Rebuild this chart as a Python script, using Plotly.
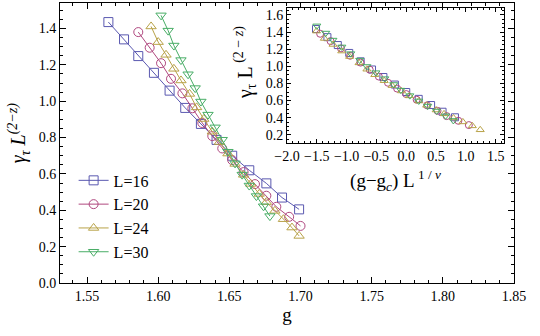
import plotly.graph_objects as go

# ---- data ----
g16 = [1.565, 1.576, 1.586, 1.597, 1.608, 1.619, 1.630, 1.641, 1.652, 1.664, 1.676, 1.687, 1.699]
y16 = [1.435, 1.340, 1.248, 1.156, 1.058, 0.963, 0.875, 0.787, 0.700, 0.620, 0.548, 0.470, 0.405]

g20 = [1.586, 1.594, 1.602, 1.609, 1.617, 1.624, 1.631, 1.638, 1.645, 1.652, 1.660, 1.668, 1.676, 1.683, 1.692, 1.700]
y20 = [1.380, 1.294, 1.209, 1.123, 1.043, 0.961, 0.880, 0.808, 0.740, 0.676, 0.610, 0.544, 0.480, 0.419, 0.364, 0.314]

g24 = [1.595, 1.600, 1.6055, 1.611, 1.616, 1.622, 1.627, 1.632, 1.638, 1.643, 1.649, 1.654, 1.660, 1.665, 1.671, 1.676, 1.682, 1.688, 1.694, 1.699]
y24 = [1.411, 1.325, 1.255, 1.178, 1.114, 1.040, 0.966, 0.902, 0.832, 0.775, 0.712, 0.655, 0.595, 0.545, 0.490, 0.445, 0.397, 0.351, 0.305, 0.259]

g30 = [1.602, 1.607, 1.611, 1.616, 1.621, 1.626, 1.630, 1.635, 1.640, 1.645, 1.649, 1.654, 1.659, 1.664, 1.669, 1.674, 1.6785]
y30 = [1.472, 1.388, 1.306, 1.226, 1.148, 1.072, 0.998, 0.926, 0.856, 0.788, 0.722, 0.658, 0.596, 0.536, 0.478, 0.422, 0.368]

# scaled abscissa (g - g_c) L^{1/nu} for the inset
s16 = [-1.513, -1.322, -1.148, -0.956, -0.765, -0.574, -0.383, -0.191, 0.0, 0.209, 0.417, 0.609, 0.817]
s20 = [-1.444, -1.269, -1.094, -0.941, -0.766, -0.613, -0.459, -0.306, -0.153, 0.0, 0.175, 0.350, 0.525, 0.678, 0.875, 1.050]
s24 = [-1.505, -1.373, -1.228, -1.082, -0.950, -0.792, -0.660, -0.528, -0.370, -0.238, -0.079, 0.053, 0.211, 0.343, 0.502, 0.634, 0.792, 0.950, 1.109, 1.241]
s30 = [-1.50, -1.35, -1.23, -1.08, -0.93, -0.78, -0.66, -0.51, -0.36, -0.21, -0.09, 0.06, 0.21, 0.36, 0.51, 0.66, 0.79]

labels = ["L=16", "L=20", "L=24", "L=30"]
colors = ["#5a58b0", "#b0487f", "#b8a248", "#48ad66"]
symbols = ["square-open", "circle-open", "triangle-up-open", "triangle-down-open"]

FONT = "Liberation Serif"

fig = go.Figure()
main = [(g16, y16), (g20, y20), (g24, y24), (g30, y30)]
inset = [(s16, y16), (s20, y20), (s24, y24), (s30, y30)]
for i, (gx, gy) in enumerate(main):
    fig.add_trace(go.Scatter(
        x=gx, y=gy, mode="lines+markers", name=labels[i],
        line=dict(color=colors[i], width=1),
        marker=dict(symbol=symbols[i], size=9, color=colors[i], line=dict(width=1, color=colors[i])),
        xaxis="x", yaxis="y"))
for i, (sx, sy) in enumerate(inset):
    fig.add_trace(go.Scatter(
        x=sx, y=sy, mode="markers", showlegend=False,
        marker=dict(symbol=symbols[i], size=7, color=colors[i], line=dict(width=1, color=colors[i])),
        xaxis="x2", yaxis="y2"))

axis_common = dict(showline=True, linecolor="black", linewidth=1, mirror="allticks",
                   ticks="inside", ticklen=6, tickcolor="black", showgrid=False, zeroline=False,
                   automargin=False,
                   tickfont=dict(family=FONT, size=14, color="black"))

fig.update_layout(
    width=540, height=336,
    margin=dict(l=60, r=26, t=3, b=53),
    paper_bgcolor="white", plot_bgcolor="white",
    font=dict(family=FONT, color="black", size=14),
    xaxis=dict(range=[1.531, 1.85], tickvals=[1.55, 1.60, 1.65, 1.70, 1.75, 1.80, 1.85],
               ticktext=["1.55", "1.60", "1.65", "1.70", "1.75", "1.80", "1.85"],
               minor=dict(ticks="inside", ticklen=3, dtick=0.01, tick0=1.5, tickcolor="black"),
               title=dict(text="g", font=dict(family=FONT, size=19), standoff=4),
               domain=[0, 1], **axis_common),
    yaxis=dict(range=[0, 1.54], tickvals=[0, 0.2, 0.4, 0.6, 0.8, 1.0, 1.2, 1.4],
               ticktext=["0.0", "0.2", "0.4", "0.6", "0.8", "1.0", "1.2", "1.4"],
               minor=dict(ticks="inside", ticklen=3, dtick=0.05, tickcolor="black"),
               domain=[0, 1], **axis_common),
    xaxis2=dict(range=[-2.0, 1.64], tickvals=[-2.0, -1.5, -1.0, -0.5, 0.0, 0.5, 1.0, 1.5],
                ticktext=["−2.0", "−1.5", "−1.0", "−0.5", "0.0", "0.5", "1.0", "1.5"],
                minor=dict(ticks="inside", ticklen=2, dtick=0.1, tickcolor="black"),
                title=dict(text="(g−g<sub><i>c</i></sub>) L<sup> 1 / <i>ν</i></sup>", font=dict(family=FONT, size=19), standoff=10),
                domain=[0.5, 0.978], anchor="y2", **{**axis_common, "ticklen": 4}),
    yaxis2=dict(range=[0.105, 1.68], tickvals=[0.2, 0.4, 0.6, 0.8, 1.0, 1.2, 1.4, 1.6],
                ticktext=["0.2", "0.4", "0.6", "0.8", "1.0", "1.2", "1.4", "1.6"],
                minor=dict(ticks="inside", ticklen=2, dtick=0.05, tickcolor="black"),
                domain=[0.5, 0.982], anchor="x2", **{**axis_common, "ticklen": 4}),
    legend=dict(x=0.03, y=0.427, xanchor="left", yanchor="top", bgcolor="rgba(0,0,0,0)",
                font=dict(family=FONT, size=16, color="black"), tracegroupgap=0, itemwidth=30),
    showlegend=True,
    annotations=[
        dict(text="<i>γ<sub>τ</sub> L<sup>(2−z)</sup></i>", textangle=-90, showarrow=False,
             xref="paper", yref="paper", x=-0.09, y=0.535, xanchor="center", yanchor="middle",
             font=dict(family=FONT, size=20, color="black")),
        dict(text="γ<sub>τ</sub> L<sup> (2 − <i>z</i>)</sup>", textangle=-90, showarrow=False,
             xref="paper", yref="paper", x=0.409, y=0.788, xanchor="center", yanchor="middle",
             font=dict(family=FONT, size=20, color="black")),
    ],
)

fig.write_html("out.html", config={"displayModeBar": False},
               post_script="document.body.style.margin='0';document.body.style.padding='0';")
